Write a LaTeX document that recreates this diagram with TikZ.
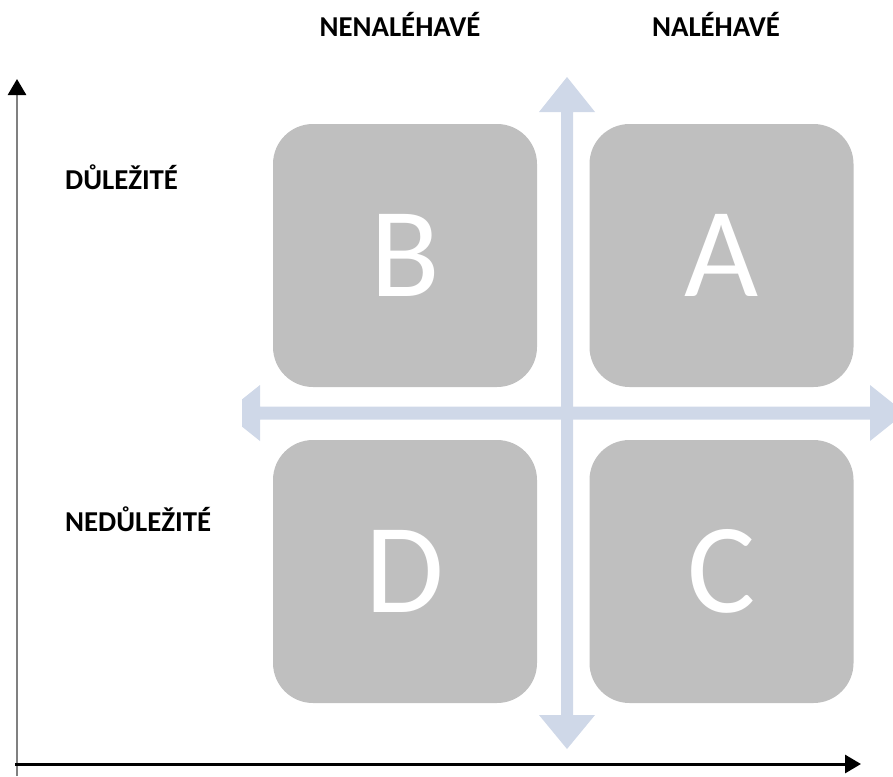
\documentclass[tikz,border=0pt]{standalone}
\usepackage{fontspec}
\setmainfont{Carlito}
\usetikzlibrary{arrows.meta}
\definecolor{boxgray}{RGB}{191,191,191}
\definecolor{crossblue}{RGB}{207,216,232}
\definecolor{axisgray}{RGB}{128,128,128}
\begin{document}
\begin{tikzpicture}[x=1pt,y=-1pt,
  quad/.style={fill=boxgray, rounded corners=40pt, minimum width=264pt, minimum height=263pt, inner sep=0pt, text=white, font=\fontsize{128}{128}\selectfont},
  lab/.style={font=\bfseries\fontsize{28.8}{30}\selectfont, inner sep=0pt}]
\useasboundingbox (0,0) rectangle (893,776);
\clip (0,0) rectangle (893,776);
% quadrant boxes
\node[quad] (B) at (405,255.5) {B};
\node[quad] (A) at (721.5,255.5) {A};
\node[quad] (D) at (405,571.5) {D};
\node[quad] (C) at (721.5,571.5) {C};
% blue cross
\fill[crossblue] (561,112) -- (539,112) -- (567,77) -- (595,112) -- (573,112)
  -- (573,715) -- (595,715) -- (567,749) -- (539,715) -- (561,715) -- cycle;
\fill[crossblue] (260,406.5) -- (260,385) -- (242,399.4) -- (242,426.6) -- (260,441)
  -- (260,419.5) -- (870,419.5) -- (870,441) -- (905,413) -- (870,385) -- (870,406.5) -- cycle;
% axes
\coordinate (ybot) at (17,776);
\coordinate (ytop) at (17,79);
\coordinate (xl) at (15,764);
\coordinate (xr) at (861,764);
\draw[axisgray, line width=2.8pt, -{Triangle[length=16pt,width=18pt,black]}] (ybot) -- (ytop);
\draw[black, line width=3pt, -{Triangle[length=16pt,width=18pt]}] (xl) -- (xr);
% labels
\node[lab, anchor=base] (nu) at (400,37) {NENALÉHAVÉ};
\node[lab, anchor=base] (u) at (716,37) {NALÉHAVÉ};
\node[lab, anchor=base west] (d) at (65,189) {DŮLEŽITÉ};
\node[lab, anchor=base west] (nd) at (65,531) {NEDŮLEŽITÉ};
\end{tikzpicture}
\end{document}
